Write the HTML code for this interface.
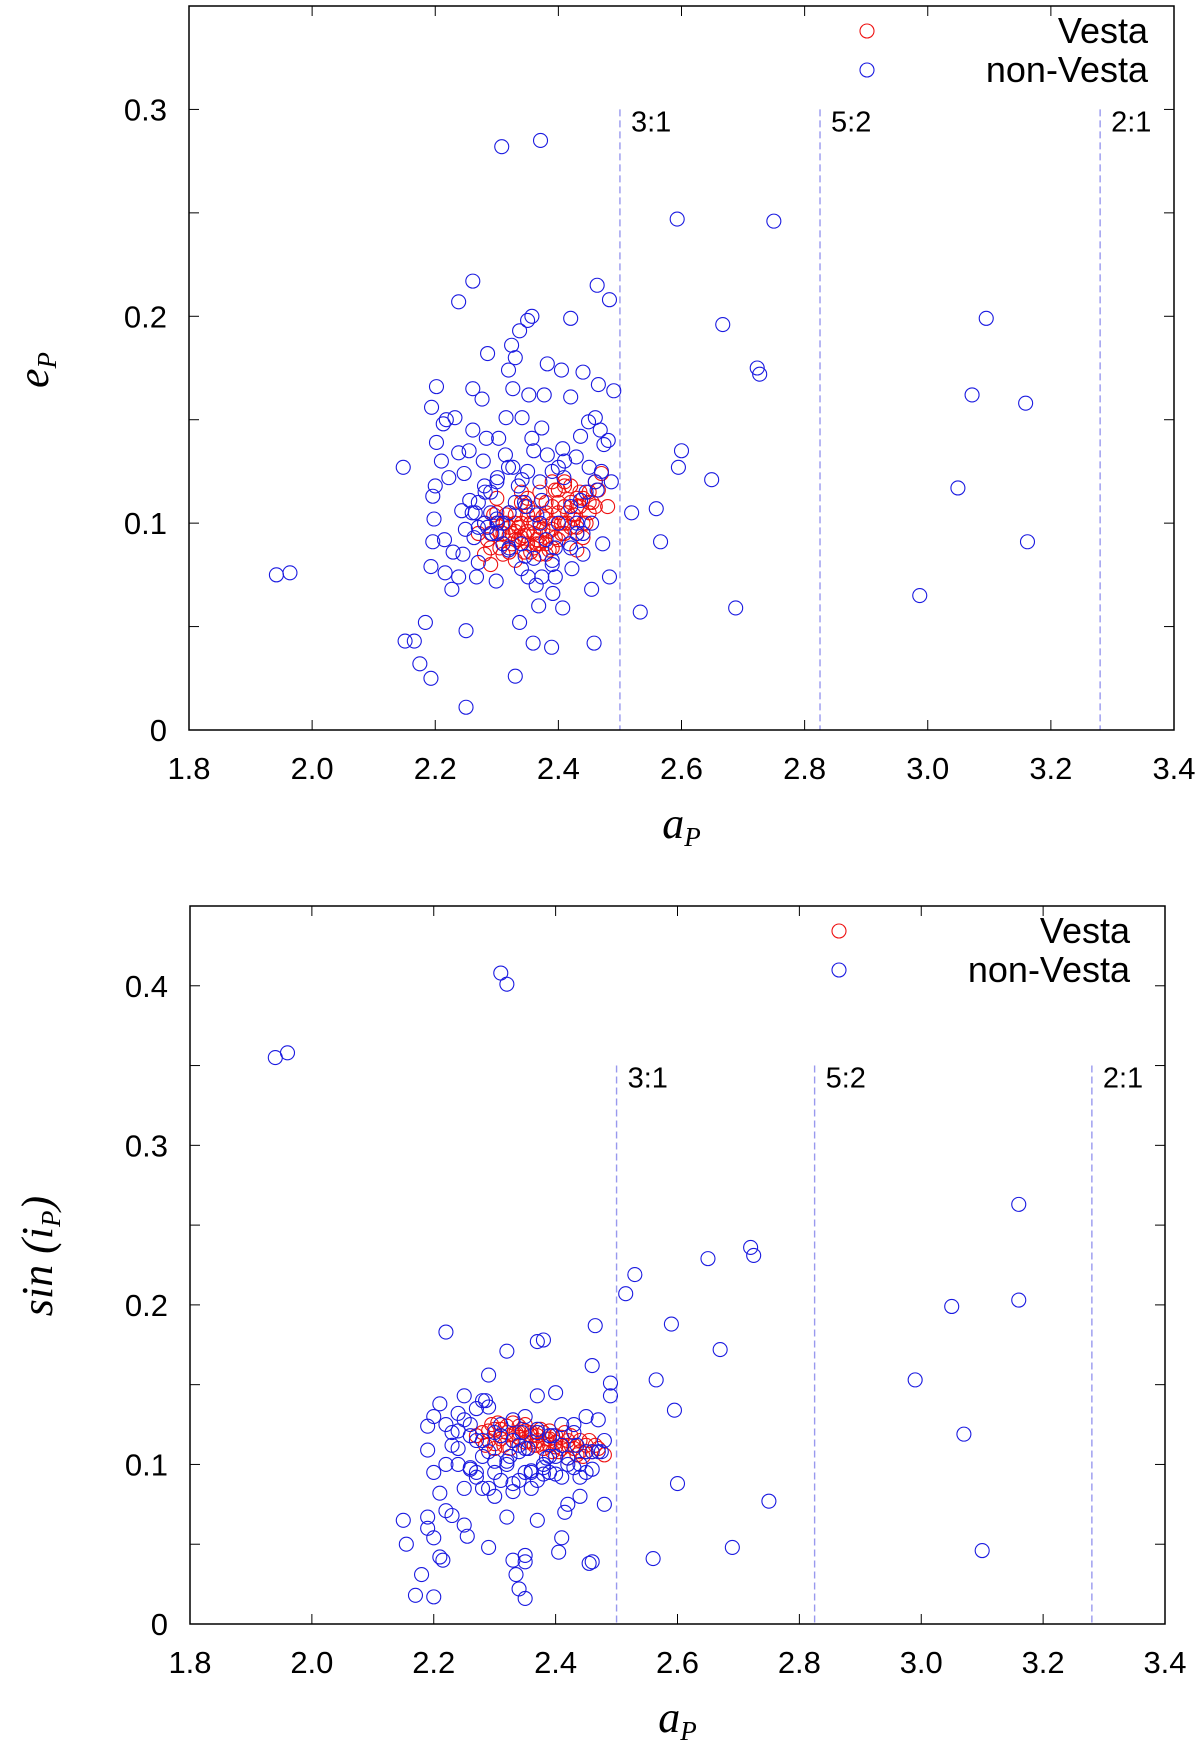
<!DOCTYPE html>
<html><head><meta charset="utf-8">
<style>
html,body{margin:0;padding:0;background:#fff;}
svg{display:block;}
</style></head>
<body>
<svg id="fig" width="1200" height="1743" viewBox="0 0 1200 1743" xmlns="http://www.w3.org/2000/svg"></svg>
<script>
// ---------- data ----------
const xTicks = [1.8,2.0,2.2,2.4,2.6,2.8,3.0,3.2,3.4];
const xTickLabels = ["1.8","2.0","2.2","2.4","2.6","2.8","3.0","3.2","3.4"];
const topYTicks = [0,0.1,0.2,0.3];
const topYTickLabels = ["0","0.1","0.2","0.3"];
const botYTicks = [0,0.1,0.2,0.3,0.4];
const botYTickLabels = ["0","0.1","0.2","0.3","0.4"];
const resonanceA = [2.5,2.825,3.28];
const resonanceLabels = ["3:1","5:2","2:1"];

// top panel: non-Vesta (a, e)
const topBlueA = [1.942,1.964,2.148,2.151,2.166,2.175,2.184,2.193,2.25,2.25,2.193,2.202,2.194,2.238,2.261,2.308,2.371,2.593,2.75,2.667,2.723,2.727,2.6,2.595,2.649,2.559,2.519,2.566,2.533,2.688,3.095,3.072,3.159,3.049,3.162,2.987,2.463,2.483,2.42,2.35,2.357,2.337,2.324,2.285,2.33,2.319,2.382,2.44,2.405,2.49,2.465,2.261,2.276,2.352,2.326,2.377,2.42,2.218,2.232,2.213,2.315,2.341,2.261,2.283,2.436,2.468,2.449,2.46,2.202,2.238,2.303,2.357,2.407,2.474,2.481,2.373,2.314,2.382,2.429,2.222,2.2,2.247,2.281,2.341,2.409,2.486,2.196,2.243,2.198,2.196,2.229,2.245,2.263,2.249,2.27,2.238,2.227,2.216,2.267,2.299,2.351,2.373,2.395,2.364,2.422,2.483,2.472,2.368,2.391,2.407,2.389,2.359,2.337,2.33,2.458,2.454,2.454,2.463,2.45,2.4,2.373,2.326,2.301,2.301,2.319,2.292,2.346,2.436,2.418,2.346,2.256,2.278,2.319,2.21,2.27,2.29,2.31,2.34,2.39,2.43,2.265,2.285,2.3,2.335,2.36,2.39,2.42,2.445,2.47,2.255,2.28,2.215,2.365,2.31,2.345,2.44,2.27,2.395,2.29,2.3,2.32,2.34,2.36,2.38,2.4,2.42,2.44,2.26,2.28,2.33,2.35,2.37,2.41,2.43,2.46,2.3,2.32,2.37,2.39];
const topBlueE = [0.075,0.076,0.127,0.043,0.043,0.032,0.052,0.025,0.011,0.048,0.079,0.166,0.156,0.207,0.217,0.282,0.285,0.247,0.246,0.196,0.175,0.172,0.135,0.127,0.121,0.107,0.105,0.091,0.057,0.059,0.199,0.162,0.158,0.117,0.091,0.065,0.215,0.208,0.199,0.198,0.2,0.193,0.186,0.182,0.18,0.174,0.177,0.173,0.174,0.164,0.167,0.165,0.16,0.162,0.165,0.162,0.161,0.15,0.151,0.148,0.151,0.151,0.145,0.141,0.142,0.145,0.149,0.151,0.139,0.134,0.141,0.141,0.136,0.138,0.14,0.146,0.133,0.133,0.132,0.122,0.118,0.124,0.115,0.121,0.122,0.12,0.113,0.106,0.102,0.091,0.086,0.085,0.093,0.097,0.081,0.074,0.068,0.076,0.074,0.072,0.074,0.074,0.074,0.07,0.078,0.074,0.09,0.06,0.066,0.059,0.04,0.042,0.052,0.026,0.042,0.068,0.1,0.116,0.127,0.127,0.111,0.127,0.122,0.1,0.087,0.095,0.084,0.111,0.09,0.108,0.111,0.13,0.127,0.13,0.11,0.105,0.09,0.078,0.08,0.095,0.105,0.098,0.12,0.118,0.135,0.125,0.108,0.115,0.125,0.135,0.1,0.092,0.104,0.1,0.11,0.085,0.098,0.088,0.115,0.095,0.088,0.09,0.083,0.092,0.1,0.088,0.095,0.105,0.118,0.11,0.125,0.12,0.13,0.1,0.12,0.102,0.105,0.1,0.082,0.108];

// top panel: Vesta (a, e)
const topRedA = [2.28,2.29,2.3,2.31,2.32,2.33,2.34,2.35,2.36,2.37,2.38,2.39,2.4,2.41,2.42,2.43,2.44,2.45,2.46,2.47,2.28,2.3,2.32,2.34,2.36,2.38,2.4,2.42,2.44,2.46,2.29,2.31,2.33,2.35,2.37,2.39,2.41,2.43,2.45,2.31,2.33,2.35,2.37,2.39,2.41,2.43,2.3,2.32,2.34,2.36,2.38,2.4,2.42,2.44,2.35,2.37,2.39,2.41,2.36,2.38,2.34,2.32,2.48,2.43,2.45,2.27,2.33,2.355,2.375,2.395,2.285,2.295,2.305,2.315,2.325,2.335,2.345,2.365,2.385,2.405,2.415,2.425,2.435,2.455,2.465,2.305,2.325,2.345,2.365,2.385,2.405,2.425,2.445,2.315,2.335,2.355,2.375,2.395,2.415,2.435,2.29,2.31,2.33,2.35,2.37,2.39,2.41,2.43,2.38,2.4];
const topRedE = [0.1,0.095,0.105,0.09,0.098,0.092,0.1,0.096,0.088,0.094,0.09,0.097,0.105,0.1,0.11,0.108,0.112,0.115,0.12,0.124,0.085,0.112,0.086,0.11,0.105,0.102,0.092,0.118,0.1,0.108,0.08,0.085,0.1,0.09,0.115,0.108,0.095,0.112,0.105,0.095,0.082,0.108,0.098,0.088,0.118,0.098,0.1,0.105,0.093,0.1,0.085,0.11,0.098,0.093,0.112,0.09,0.12,0.12,0.095,0.105,0.115,0.094,0.108,0.087,0.11,0.095,0.104,0.086,0.103,0.116,0.092,0.104,0.096,0.1,0.09,0.098,0.094,0.092,0.096,0.1,0.105,0.102,0.108,0.11,0.116,0.088,0.095,0.086,0.09,0.087,0.095,0.104,0.1,0.104,0.092,0.1,0.097,0.093,0.1,0.115,0.088,0.1,0.096,0.104,0.085,0.1,0.108,0.095,0.11,0.116];

// bottom panel: non-Vesta (a, sin i)
const botBlueA = [1.94,1.96,2.31,2.32,3.16,3.16,3.05,2.99,3.07,3.1,2.72,2.725,2.65,2.67,2.53,2.515,2.59,2.565,2.595,2.6,2.75,2.69,2.56,2.49,2.49,2.465,2.46,2.22,2.32,2.37,2.38,2.29,2.15,2.155,2.17,2.18,2.19,2.19,2.2,2.215,2.21,2.2,2.19,2.22,2.255,2.29,2.32,2.33,2.335,2.34,2.35,2.35,2.35,2.37,2.41,2.405,2.455,2.46,2.19,2.2,2.21,2.22,2.23,2.24,2.25,2.26,2.27,2.28,2.29,2.3,2.31,2.33,2.35,2.37,2.39,2.41,2.43,2.45,2.47,2.48,2.2,2.22,2.24,2.26,2.28,2.3,2.32,2.34,2.36,2.38,2.4,2.42,2.44,2.46,2.21,2.25,2.27,2.29,2.31,2.33,2.35,2.37,2.39,2.41,2.43,2.45,2.47,2.23,2.26,2.28,2.3,2.34,2.36,2.38,2.42,2.44,2.46,2.48,2.24,2.27,2.33,2.37,2.4,2.25,2.285,2.325,2.355,2.395,2.435,2.475,2.345,2.385,2.415,2.23,2.25,2.27,2.29,2.31,2.33,2.35,2.37,2.39,2.41,2.43,2.45,2.24,2.28,2.32,2.36,2.4,2.44,2.26,2.3,2.34,2.38,2.42];
const botBlueS = [0.355,0.358,0.408,0.401,0.263,0.203,0.199,0.153,0.119,0.046,0.236,0.231,0.229,0.172,0.219,0.207,0.188,0.153,0.134,0.088,0.077,0.048,0.041,0.151,0.143,0.187,0.162,0.183,0.171,0.177,0.178,0.156,0.065,0.05,0.018,0.031,0.06,0.067,0.054,0.04,0.042,0.017,0.109,0.071,0.055,0.048,0.067,0.04,0.031,0.022,0.016,0.043,0.039,0.065,0.054,0.045,0.038,0.039,0.124,0.13,0.138,0.125,0.12,0.132,0.128,0.125,0.135,0.14,0.136,0.12,0.125,0.115,0.13,0.12,0.118,0.125,0.12,0.13,0.128,0.115,0.095,0.1,0.11,0.098,0.105,0.102,0.1,0.108,0.095,0.1,0.105,0.1,0.1,0.108,0.082,0.085,0.092,0.085,0.09,0.088,0.095,0.09,0.095,0.092,0.098,0.095,0.108,0.112,0.118,0.085,0.08,0.09,0.085,0.098,0.075,0.08,0.097,0.075,0.121,0.095,0.083,0.143,0.145,0.143,0.14,0.105,0.11,0.118,0.112,0.108,0.12,0.104,0.07,0.068,0.062,0.115,0.108,0.118,0.128,0.11,0.122,0.105,0.112,0.125,0.108,0.1,0.115,0.102,0.096,0.094,0.092,0.097,0.095,0.112,0.094,0.104,0.1,0.096];

// bottom panel: Vesta (a, sin i)
const botRedA = [2.27,2.28,2.29,2.3,2.31,2.32,2.33,2.34,2.35,2.36,2.37,2.38,2.39,2.4,2.41,2.42,2.43,2.44,2.45,2.46,2.47,2.48,2.285,2.305,2.325,2.345,2.365,2.385,2.405,2.425,2.445,2.465,2.295,2.315,2.335,2.355,2.375,2.395,2.415,2.435,2.455,2.3,2.33,2.36,2.39,2.42,2.29,2.31,2.32,2.34,2.35,2.37,2.38,2.4,2.41,2.43,2.44,2.3,2.33,2.35,2.37,2.39,2.42,2.45,2.31,2.34,2.36,2.38,2.4];
const botRedS = [0.118,0.12,0.115,0.122,0.118,0.124,0.115,0.12,0.125,0.118,0.115,0.12,0.112,0.118,0.11,0.115,0.112,0.108,0.112,0.108,0.11,0.106,0.112,0.126,0.11,0.122,0.112,0.116,0.108,0.118,0.105,0.112,0.125,0.112,0.12,0.11,0.122,0.108,0.12,0.106,0.115,0.11,0.126,0.114,0.121,0.104,0.121,0.116,0.12,0.124,0.114,0.118,0.11,0.114,0.117,0.11,0.115,0.113,0.119,0.121,0.112,0.116,0.112,0.108,0.122,0.117,0.12,0.113,0.111];

// ---------- drawing ----------
const NS = "http://www.w3.org/2000/svg";
const svg = document.getElementById("fig");
const SANS = "font-family:'Liberation Sans',sans-serif;";
const SERIF = "font-family:'Liberation Serif',serif;font-style:italic;";
function mk(tag, attrs, parent){
  const el = document.createElementNS(NS, tag);
  for (const k in attrs) el.setAttribute(k, attrs[k]);
  (parent||svg).appendChild(el);
  return el;
}

function drawPanel(P){
  const g = mk("g", {});
  
  
  const xs = a => P.L + (a - 1.8) / 1.6 * (P.R - P.L);
  const ys = v => P.B - v / P.ymax * (P.B - P.T);

  for (let v = 0.05; v < P.ymax - 1e-9; v += 0.05) {
    const t1 = mk("line", {x1:P.L, x2:P.L+10, y1:ys(v), y2:ys(v), stroke:"#000", "stroke-width":1}, g);
    
    
    const t2 = mk("line", {x1:P.R, x2:P.R-10, y1:ys(v), y2:ys(v), stroke:"#000", "stroke-width":1}, g);
    
    
  }
  P.yTicks.forEach((v, i) => {
    const lb = mk("text", {x:P.L-22, y:ys(v)+11, "text-anchor":"end", style:SANS+"font-size:31px"}, g);
    lb.textContent = P.yLabels[i];
    
    
  });
  xTicks.forEach((a, i) => {
    const t1 = mk("line", {x1:xs(a), x2:xs(a), y1:P.B, y2:P.B-10, stroke:"#000", "stroke-width":1}, g);
    
    
    const t2 = mk("line", {x1:xs(a), x2:xs(a), y1:P.T, y2:P.T+10, stroke:"#000", "stroke-width":1}, g);
    
    
    const lb = mk("text", {x:xs(a), y:P.B+49, "text-anchor":"middle", style:SANS+"font-size:31px"}, g);
    lb.textContent = xTickLabels[i];
    
    
  });

  resonanceA.forEach((a, i) => {
    const ln = mk("line", {x1:xs(a), x2:xs(a), y1:ys(P.resTop), y2:P.B, stroke:"#9999ee", "stroke-width":1.4, "stroke-dasharray":"7,4"}, g);
    
    
    const lb = mk("text", {x:xs(a)+11, y:ys(P.resTop)+22, style:SANS+"font-size:29px"}, g);
    lb.textContent = resonanceLabels[i];
    
    
  });

  P.redA.forEach((a, i) => {
    const c = mk("circle", {cx:xs(a), cy:ys(P.redV[i]), r:7, fill:"none", stroke:"#ee1111", "stroke-width":1.1}, g);
    
    
  });
  P.blueA.forEach((a, i) => {
    const c = mk("circle", {cx:xs(a), cy:ys(P.blueV[i]), r:7, fill:"none", stroke:"#1a1ae0", "stroke-width":1.1}, g);
    
    
  });

  const fr = mk("rect", {x:P.L, y:P.T, width:P.R-P.L, height:P.B-P.T, fill:"none", stroke:"#000", "stroke-width":1.5}, g);
  
  

  const l1 = mk("circle", {cx:P.legX, cy:P.legY, r:7, fill:"none", stroke:"#ee1111", "stroke-width":1.1}, g);
  
  
  const t1 = mk("text", {x:P.legTX, y:P.legY+12, "text-anchor":"end", style:SANS+"font-size:36px"}, g);
  t1.textContent = "Vesta";
  
  
  const l2 = mk("circle", {cx:P.legX, cy:P.legY+39, r:7, fill:"none", stroke:"#1a1ae0", "stroke-width":1.1}, g);
  
  
  const t2 = mk("text", {x:P.legTX, y:P.legY+51, "text-anchor":"end", style:SANS+"font-size:36px"}, g);
  t2.textContent = "non-Vesta";
  
  

  const xt = mk("text", {x:(P.L+P.R)/2, y:P.xTitleY, "text-anchor":"middle", style:SERIF+"font-size:44px"}, g);
  xt.innerHTML = 'a<tspan style="font-size:27px" dy="8">P</tspan>';
  
  
  const yt = mk("text", {x:0, y:0, "text-anchor":"middle", style:SERIF+"font-size:44px", transform:"translate(" + P.yTitleX + "," + P.yTitleY + ") rotate(-90)"}, g);
  yt.innerHTML = P.yTitle;
  
  
}

drawPanel({name:"eccentricity-panel", L:189, R:1174, T:6, B:730, ymax:0.35, resTop:0.3,
  yTicks:topYTicks, yLabels:topYTickLabels,
  blueA:topBlueA, blueV:topBlueE, redA:topRedA, redV:topRedE,
  legX:867, legY:31, legTX:1148, xTitleY:838, yTitleX:48, yTitleY:370,
  yTitle:'e<tspan style="font-size:27px" dy="8">P</tspan>'});

drawPanel({name:"inclination-panel", L:190, R:1165, T:906, B:1624, ymax:0.45, resTop:0.35,
  yTicks:botYTicks, yLabels:botYTickLabels,
  blueA:botBlueA, blueV:botBlueS, redA:botRedA, redV:botRedS,
  legX:839, legY:931, legTX:1130, xTitleY:1732, yTitleX:52, yTitleY:1256,
  yTitle:'sin (i<tspan style="font-size:27px" dy="8">P</tspan><tspan dy="-8">)</tspan>'});
</script>
</body></html>
